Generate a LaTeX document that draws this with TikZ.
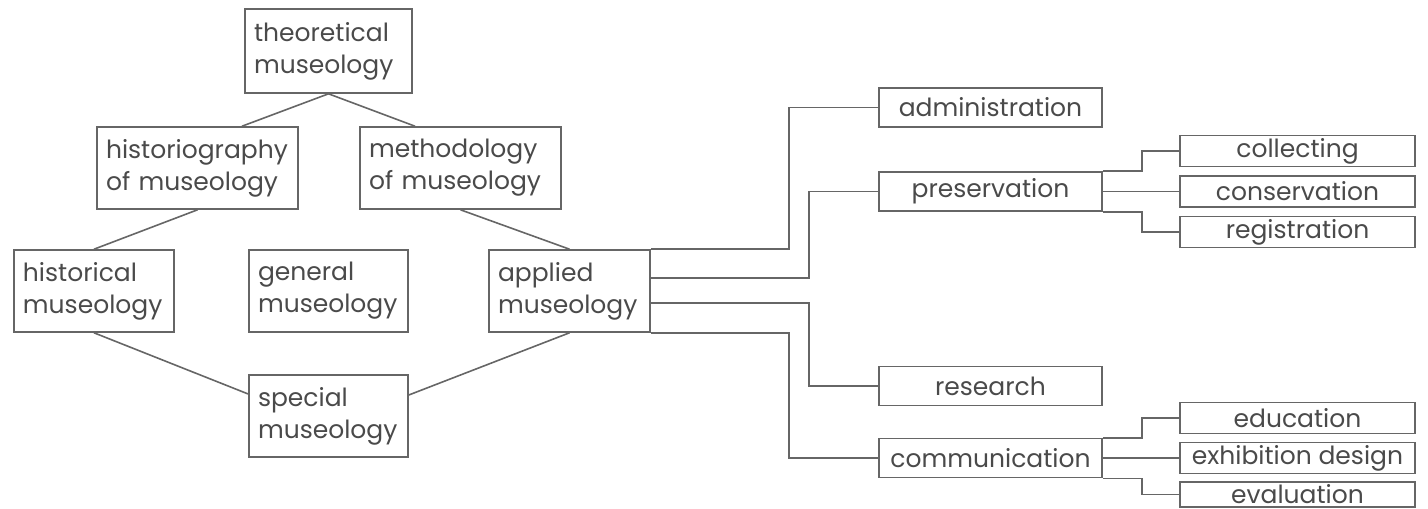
\documentclass[tikz,border=0pt]{standalone}
\usepackage{fontspec}
\setmainfont{Poppins}
\definecolor{boxgray}{HTML}{666666}
\definecolor{textgray}{HTML}{4A4A4A}

\begin{document}
\begin{tikzpicture}[x=1pt, y=-1pt,
  museobox/.style={draw=boxgray, line width=1.6pt, text=textgray, align=left, inner xsep=9pt, inner ysep=0pt, font=\fontsize{25}{32}\selectfont, minimum height=82pt},
  branchbox/.style={draw=boxgray, line width=1.6pt, text=textgray, align=center, inner sep=0pt, font=\fontsize{25}{28}\selectfont, minimum width=223pt, minimum height=39pt},
  leafbox/.style={branchbox, minimum width=235pt, minimum height=31pt},
  link/.style={draw=boxgray, line width=1.6pt}]

%% The page is as large as the reference picture
    \useasboundingbox (0,0) rectangle (1428,509);

%% The diamond of museology on the left
    \node[museobox, text width=149pt, minimum height=84pt] (theo) at (328.5,51) {theoretical\\museology};
    \node[museobox, text width=183pt] (histgr) at (197.5,168) {historiography\\of museology};
    \node[museobox, text width=183pt] (meth) at (460.5,168) {methodology\\of museology};
    \node[museobox, text width=142pt] (histl) at (94,291) {historical\\museology};
    \node[museobox, text width=141pt] (gen) at (328.5,291) {general\\museology};
    \node[museobox, text width=143pt] (app) at (569.5,291) {applied\\museology};
    \node[museobox, text width=141pt] (spec) at (328.5,416) {special\\museology};

    \draw[link] ([xshift=44.5pt]histgr.north) -- (theo.south) -- ([xshift=-45.5pt]meth.north);
    \draw[link] (histgr.south) -- (histl.north);
    \draw[link] (meth.south) -- (app.north);
    \draw[link] (histl.south) -- ([yshift=22pt]spec.west);
    \draw[link] (app.south) -- ([yshift=21pt]spec.east);

%% The branches of applied museology
    \node[branchbox] (adm) at (990.5,107.5) {administration};
    \node[branchbox] (pres) at (990.5,191.5) {preservation};
    \node[branchbox] (res) at (990.5,386) {research};
    \node[branchbox] (com) at (990.5,458) {communication};

    \draw[link] (app.north east) -- ++(138,0) |- (adm.west);
    \draw[link] ([yshift=13pt]app.east) -- ++(158,0) |- (pres.west);
    \draw[link] ([yshift=-12pt]app.east) -- ++(158,0) |- (res.west);
    \draw[link] (app.south east) -- ++(138,0) |- (com.west);

%% The leaves of preservation and communication
    \node[leafbox] (col) at (1297.5,151) {collecting};
    \node[leafbox] (cons) at (1297.5,191.5) {conservation};
    \node[leafbox] (reg) at (1297.5,232) {registration};
    \node[leafbox] (edu) at (1297.5,418) {education};
    \node[leafbox] (exh) at (1297.5,458) {exhibition design};
    \node[leafbox, minimum height=25pt] (eva) at (1297.5,494.5) {evaluation};

    \draw[link] (pres.north east) -- ++(39,0) |- (col.west);
    \draw[link] (pres.east) -- (cons.west);
    \draw[link] (pres.south east) -- ++(39,0) |- (reg.west);
    \draw[link] (com.north east) -- ++(39,0) |- (edu.west);
    \draw[link] (com.east) -- (exh.west);
    \draw[link] (com.south east) -- ++(39,0) |- (eva.west);

\end{tikzpicture}
\end{document}
